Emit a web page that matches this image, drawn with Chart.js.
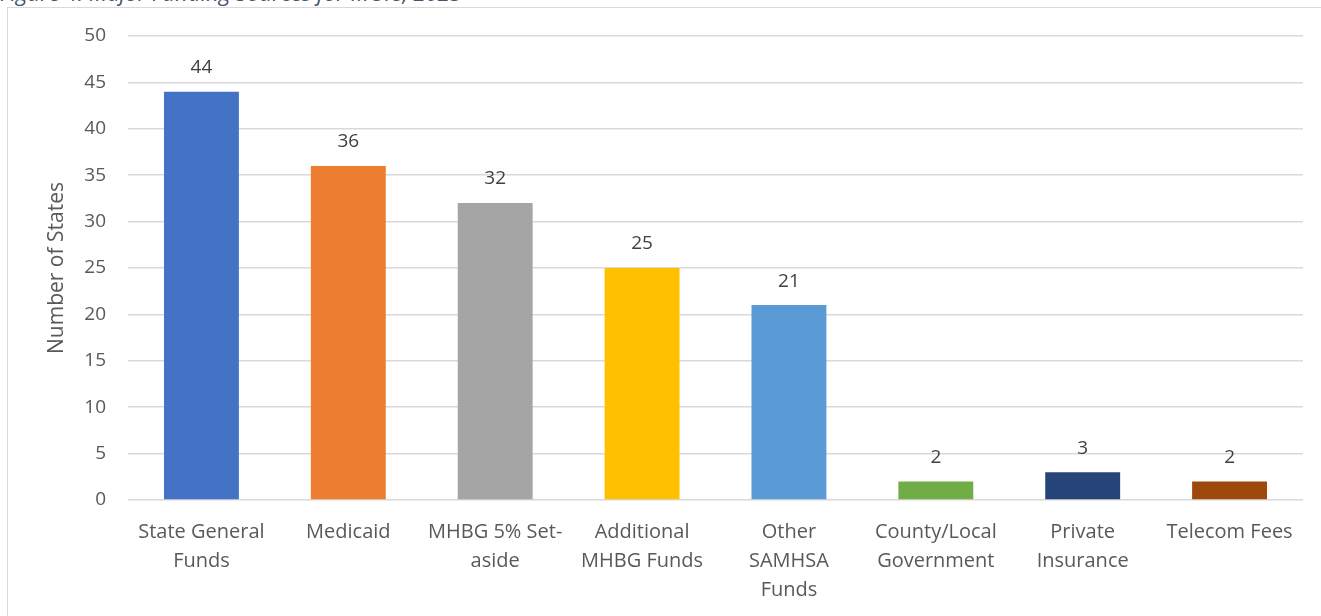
<!DOCTYPE html>
<html>
<head>
<meta charset="utf-8">
<script src="https://cdn.jsdelivr.net/npm/chart.js@4"></script>
<style>
  html, body { margin: 0; padding: 0; background: #fff; overflow: hidden; }
  #wrap { position: relative; width: 1321px; height: 616px; }
  #frame {
    position: absolute; left: 7px; top: 7px; width: 1330px; height: 630px;
    border: 1px solid #d9d9d9; box-sizing: border-box;
  }
  #caption {
    position: absolute; left: 0; top: -23px; white-space: nowrap;
    font: italic 22px "Open Sans", sans-serif; color: #44546a;
  }
  canvas { position: absolute; left: 0; top: 0; }
</style>
</head>
<body>
<div id="wrap">
  <div id="frame"></div>
  <div id="caption">Figure 4: Major Funding Sources for MCTs, 2023</div>
  <canvas id="chart" width="1321" height="616"></canvas>
</div>
<script>
const categories = [
  ["State General", "Funds"],
  "Medicaid",
  ["MHBG 5% Set-", "aside"],
  ["Additional", "MHBG Funds"],
  ["Other", "SAMHSA", "Funds"],
  ["County/Local", "Government"],
  ["Private", "Insurance"],
  "Telecom Fees",
];
const states = [44, 36, 32, 25, 21, 2, 3, 2];
const barColors = [
  "#4472c4", "#ed7d31", "#a5a5a5", "#ffc000",
  "#5b9bd5", "#70ad47", "#264478", "#9e480e",
];
const yTicks = [0, 5, 10, 15, 20, 25, 30, 35, 40, 45, 50];

const textColor = "#595959";
const fontFamily = '"Open Sans", sans-serif';

// value labels above each bar
const barLabels = {
  id: "barLabels",
  afterDatasetsDraw(chart) {
    const ctx = chart.ctx;
    const meta = chart.getDatasetMeta(0);
    ctx.save();
    ctx.font = "19px " + fontFamily;
    ctx.fillStyle = "#404040";
    ctx.textAlign = "center";
    ctx.textBaseline = "middle";
    meta.data.forEach((bar, i) => {
      ctx.fillText(String(states[i]), bar.x, bar.y - 24);
    });
    ctx.restore();
  },
};

new Chart(document.getElementById("chart"), {
  type: "bar",
  data: {
    labels: categories,
    datasets: [
      {
        label: "Number of States",
        data: states,
        backgroundColor: barColors,
        categoryPercentage: 1,
        barPercentage: 0.51,
      },
    ],
  },
  options: {
    responsive: false,
    animation: false,
    layout: { padding: { left: 0, right: 18, top: 36, bottom: 0 } },
    plugins: {
      legend: { display: false },
      tooltip: { enabled: false },
    },
    scales: {
      x: {
        grid: { display: false },
        border: { display: false },
        ticks: {
          color: textColor,
          font: { family: fontFamily, size: 20, lineHeight: 1.45 },
          maxRotation: 0,
          autoSkip: false,
          padding: 10,
        },
        afterFit(scale) { scale.height = 116; },
      },
      y: {
        min: 0,
        max: 50,
        afterBuildTicks(scale) { scale.ticks = yTicks.map((v) => ({ value: v })); },
        grid: { color: "#d9d9d9", lineWidth: 1.5, drawTicks: false },
        border: { display: false },
        ticks: {
          color: textColor,
          font: { family: fontFamily, size: 19 },
          padding: 22,
        },
        title: {
          display: true,
          text: "Number of States",
          color: textColor,
          font: { family: fontFamily, size: 21 },
          padding: { top: 44, bottom: 0 },
        },
        afterFit(scale) { scale.width = 128; },
      },
    },
  },
  plugins: [barLabels],
});
</script>
</body>
</html>
